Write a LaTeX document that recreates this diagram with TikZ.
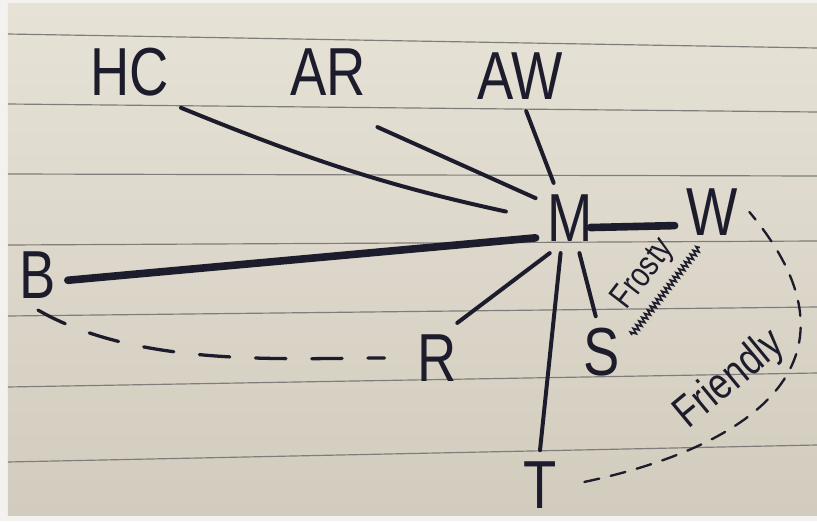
\documentclass[tikz,border=0pt]{standalone}
\usepackage{fontspec}
\newfontfamily\hand[FakeStretch=0.8]{Liberation Sans}
\usetikzlibrary{positioning,decorations.pathmorphing}
\definecolor{ink}{HTML}{1D1C2C}
\definecolor{paperhi}{HTML}{E6E2D6}
\definecolor{paperlo}{HTML}{D2CCBE}
\definecolor{rulegray}{HTML}{7F7D7A}
\definecolor{margin}{HTML}{F3F2EF}

\begin{document}
\begin{tikzpicture}[node distance=1cm and 1cm, on grid,
    letter/.style={font=\hand\fontsize{58}{58}\selectfont, text=ink, inner sep=2pt, outer sep=8pt},
    note/.style={text=ink, sloped, inner sep=2pt},
    tie/.style={draw=ink, line width=3.4pt, line cap=round},
    bond/.style={tie, line width=6.5pt},
    rift/.style={tie, line width=2.8pt, dash pattern=on 26pt off 22pt},
    warm/.style={tie, line width=2pt, dash pattern=on 13pt off 10pt},
    chill/.style={tie, line width=1.4pt, decorate, decoration={zigzag, amplitude=2.5pt, segment length=4pt}}]

    \useasboundingbox (0,0) rectangle (24.51,-15.63);
    \fill[margin] (0,0) rectangle (24.51,-15.63);
    \begin{scope}[x=0.03cm, y=-0.03cm]
        \shade[top color=paperhi, bottom color=paperlo] (8,3) rectangle (817,516);
        \foreach \yl/\yr in {34/48, 104/112, 174/176, 245/241, 316/307, 387/373, 462/445}
            \draw[rulegray, line width=1pt] (8,\yl) -- (817,\yr);
    \end{scope}

    \node[letter] (m) at (17.1,-6.54) {M};
    \node[letter, above left=4.38cm and 13.2cm of m] (hc) {HC};
    \node[letter, above left=4.38cm and 7.26cm of m] (ar) {AR};
    \node[letter, above left=4.26cm and 1.5cm of m] (aw) {AW};
    \node[letter, above right=0.18cm and 4.26cm of m] (w) {W};
    \node[letter, below left=1.71cm and 15.96cm of m] (b) {B};
    \node[letter, below left=4.2cm and 3.99cm of m] (r) {R};
    \node[letter, below right=4.02cm and 0.96cm of m] (s) {S};
    \node[letter, below left=8.02cm and 0.9cm of m] (t) {T};

    \draw[tie, shorten >=26pt] (hc.south east) to[bend right=5] (m.west);
    \draw[tie] ([yshift=-0.6cm]ar.south east) -- (m.150);
    \draw[tie] (aw.-80) -- (m.115);
    \draw[bond] (b.-10) -- (m.210);
    \draw[bond, shorten <=-12pt] (m.-15) -- (w.200);
    \draw[tie] (m.240) -- (r.60);
    \draw[tie] (m.255) -- (t.north);
    \draw[tie] (m.285) -- (s.100);
    \draw[rift, shorten >=18pt] (b.south) to[out=-30, in=180, looseness=0.8] (r.west);
    \draw[chill] (s.30) -- node[note, above=7pt, font=\hand\fontsize{30}{30}\selectfont] {Frosty} (w.250);
    \draw[warm, shorten <=14pt] (t.east) to[out=12, in=-50, looseness=1.5]
        node[note, pos=0.42, above=12pt, font=\hand\fontsize{38}{38}\selectfont] {Friendly} (w.east);
\end{tikzpicture}
\end{document}
